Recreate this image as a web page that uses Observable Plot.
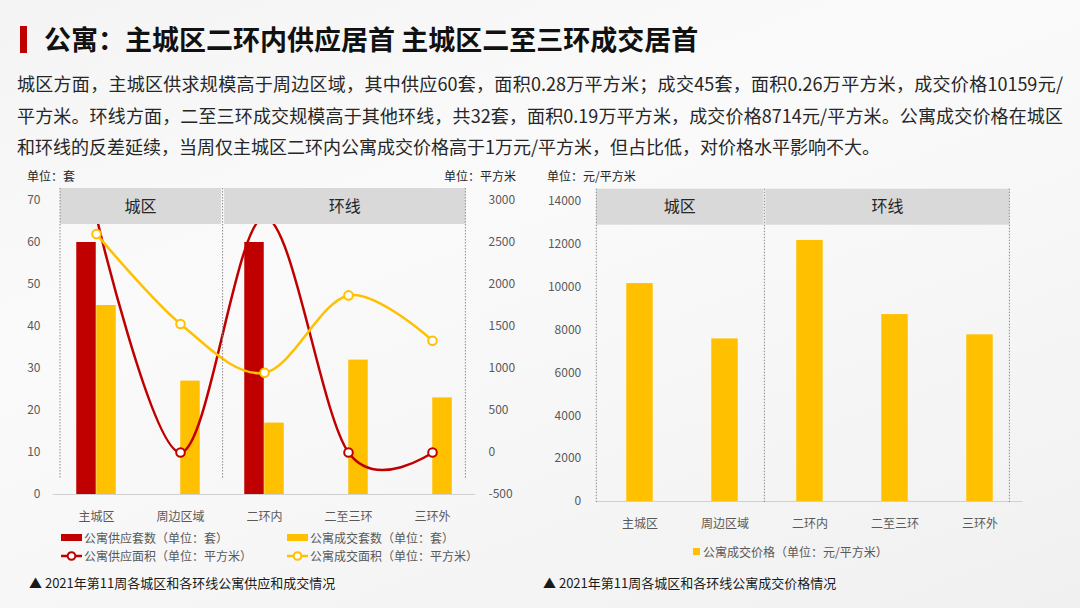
<!DOCTYPE html>
<html>
<head>
<meta charset="utf-8">
<script src="https://cdn.jsdelivr.net/npm/d3@7"></script>
<script src="https://cdn.jsdelivr.net/npm/@observablehq/plot@0.6"></script>
<style>
  html, body { margin: 0; padding: 0; }
  body {
    width: 1080px; height: 608px; overflow: hidden; position: relative;
    font-family: "Noto Sans CJK SC", "Noto Sans", sans-serif;
    background: linear-gradient(160deg, #f4f4f4 0%, #fafafa 35%, #f7f7f7 60%, #f0f0f0 100%);
    color: #262626;
  }
  .abs { position: absolute; white-space: nowrap; }
  #titlebar { left: 20px; top: 26px; width: 7px; height: 27px; background: #C00000; }
  #title { left: 44px; top: 21px; font-size: 27px; line-height: 36px; font-weight: bold; color: #111; }
  #para { left: 17px; top: 68px; width: 1046px; font-size: 18px; line-height: 31.5px; color: #262626; }
  #para div { white-space: nowrap; }
  #para .j { text-align: justify; text-align-last: justify; }
  .unit { font-size: 12px; line-height: 16px; color: #262626; }
  .leg { font-size: 12px; line-height: 16px; color: #595959; }
  .cap { font-size: 13px; line-height: 18px; color: #1a1a1a; }
  .sw { position: absolute; }
  #left, #right { position: absolute; top: 165px; }
  #left { left: 0px; }
  #right { left: 530px; }
</style>
</head>
<body>
<div class="abs" id="titlebar"></div>
<div class="abs" id="title">公寓：主城区二环内供应居首 主城区二至三环成交居首</div>
<div class="abs" id="para">
  <div class="j">城区方面，主城区供求规模高于周边区域，其中供应60套，面积0.28万平方米；成交45套，面积0.26万平方米，成交价格10159元/</div>
  <div class="j">平方米。环线方面，二至三环成交规模高于其他环线，共32套，面积0.19万平方米，成交价格8714元/平方米。公寓成交价格在城区</div>
  <div>和环线的反差延续，当周仅主城区二环内公寓成交价格高于1万元/平方米，但占比低，对价格水平影响不大。</div>
</div>

<div class="abs unit" style="left:27px; top:168px;">单位：套</div>
<div class="abs unit" style="left:444px; top:168px;">单位：平方米</div>
<div class="abs unit" style="left:547px; top:168px;">单位：元/平方米</div>

<div id="left"></div>
<div id="right"></div>

<!-- left legend -->
<div class="sw" style="left:61px; top:534px; width:21px; height:7px; background:#C00000;"></div>
<div class="abs leg" style="left:84px; top:530px;">公寓供应套数（单位：套）</div>
<div class="sw" style="left:287px; top:534px; width:21px; height:7px; background:#FFC000;"></div>
<div class="abs leg" style="left:310px; top:530px;">公寓成交套数（单位：套）</div>
<svg class="sw" style="left:59px; top:549px;" width="26" height="14">
  <line x1="2" y1="7" x2="23" y2="7" stroke="#C00000" stroke-width="2.5"/>
  <circle cx="12.5" cy="7" r="3.8" fill="#fff" stroke="#C00000" stroke-width="2"/>
</svg>
<div class="abs leg" style="left:84px; top:548px;">公寓供应面积（单位：平方米）</div>
<svg class="sw" style="left:285px; top:549px;" width="26" height="14">
  <line x1="2" y1="7" x2="23" y2="7" stroke="#FFC000" stroke-width="2.5"/>
  <circle cx="12.5" cy="7" r="3.8" fill="#fff" stroke="#FFC000" stroke-width="2"/>
</svg>
<div class="abs leg" style="left:310px; top:548px;">公寓成交面积（单位：平方米）</div>
<div class="abs cap" style="left:29px; top:574px;">▲ 2021年第11周各城区和各环线公寓供应和成交情况</div>

<!-- right legend -->
<div class="sw" style="left:693px; top:548px; width:7px; height:7px; background:#FFC000;"></div>
<div class="abs leg" style="left:703px; top:544px;">公寓成交价格（单位：元/平方米）</div>
<div class="abs cap" style="left:543px; top:574px;">▲ 2021年第11周各城区和各环线公寓成交价格情况</div>

<script>
// ---- data ----
const categories = ["主城区", "周边区域", "二环内", "二至三环", "三环外"];
const groupNames = ["城区", "城区", "环线", "环线", "环线"];
const supplySets = [60, 0, 60, 0, 0];          // 公寓供应套数（套）
const dealSets = [45, 27, 17, 32, 23];         // 公寓成交套数（套）
const supplyArea = [2800, 0, 2800, 0, 0];      // 公寓供应面积（平方米）
const dealArea = [2600, 1530, 950, 1870, 1330];// 公寓成交面积（平方米）
const dealPrice = [10159, 7580, 12170, 8714, 7770]; // 公寓成交价格（元/平方米）
const setTicks = [0, 10, 20, 30, 40, 50, 60, 70];
const areaTicks = [-500, 0, 500, 1000, 1500, 2000, 2500, 3000];
const priceTicks = [0, 2000, 4000, 6000, 8000, 10000, 12000, 14000];

// ---- styles ----
const red = "#C00000", yellow = "#FFC000";
const fontFamily = '"Noto Sans CJK SC", "Noto Sans", sans-serif';

const rows = categories.map((c, i) => ({
  cat: c, group: groupNames[i],
  supplySets: supplySets[i], dealSets: dealSets[i],
  supplyArea: supplyArea[i], dealArea: dealArea[i], price: dealPrice[i]
}));

// secondary axis mapping (area -> sets scale)
const setsMin = setTicks[0], setsMax = setTicks[setTicks.length - 1];
const areaMin = areaTicks[0], areaMax = areaTicks[areaTicks.length - 1];
const toSets = v => setsMin + (v - areaMin) / (areaMax - areaMin) * (setsMax - setsMin);
const fromSets = s => areaMin + (s - setsMin) / (setsMax - setsMin) * (areaMax - areaMin);

// header strips + dotted separators drawn from the band scale
function panels({topValue, insetFirst, insetLast, gap, midShift, dashBottom}) {
  return (index, scales) => {
    const x = scales.x, y = scales.y;
    const bw = x.bandwidth ? x.bandwidth() : scales.scales.x.bandwidth;
    const groups = d3.groups(rows, d => d.group);
    const top = y(topValue) - 12, bottom = y(topValue) + 24;
    const g = d3.create("svg:g");
    const lines = [];
    groups.forEach(([name, items], gi) => {
      const first = gi === 0, last = gi === groups.length - 1;
      const x0 = x(items[0].cat), x1 = x(items[items.length - 1].cat) + bw;
      const r0 = first ? x0 + insetFirst : x0 + midShift + gap;
      const r1 = last ? x1 - insetLast : x1 + midShift - gap;
      g.append("rect").attr("x", r0).attr("y", top).attr("width", r1 - r0).attr("height", bottom - top).attr("fill", "#d9d9d9");
      g.append("text").attr("x", (r0 + r1) / 2).attr("y", (top + bottom) / 2)
        .attr("text-anchor", "middle").attr("dy", "0.35em")
        .attr("font-size", 16).attr("fill", "#262626").text(name);
      if (first) lines.push(r0);
      lines.push(last ? r1 : x1 + midShift);
    });
    const yb = y(0) + dashBottom;
    lines.forEach(lx => {
      g.append("line").attr("x1", lx).attr("x2", lx).attr("y1", top).attr("y2", yb)
        .attr("stroke", "#8c8c8c").attr("stroke-width", 1).attr("stroke-dasharray", "1.5,1.5");
    });
    return g.node();
  };
}

const baseStyle = {fontFamily, fontSize: "12px", color: "#595959", background: "transparent", overflow: "visible"};

const L = {width: 540, height: 370, marginLeft: 52.7, marginRight: 64.7, marginTop: 35, marginBottom: 41};
const halfBandL = (L.width - L.marginLeft - L.marginRight) / categories.length / 2;

const left = Plot.plot({
  ...L,
  style: baseStyle,
  x: {type: "band", domain: categories, padding: 0, label: null, axis: null},
  y: {domain: [setsMin, setsMax], label: null, axis: null},
  marks: [
    Plot.ruleY([0], {stroke: "#d0d0d0", strokeWidth: 1}),
    Plot.barY(rows, {x: "cat", y: "supplySets", fill: red, insetLeft: halfBandL - 20, insetRight: halfBandL}),
    Plot.barY(rows, {x: "cat", y: "dealSets", fill: yellow, insetLeft: halfBandL, insetRight: halfBandL - 20}),
    Plot.line(rows, {x: "cat", y: d => toSets(d.supplyArea), stroke: red, strokeWidth: 2.5, curve: "cardinal"}),
    Plot.dot(rows, {x: "cat", y: d => toSets(d.supplyArea), r: 4.3, stroke: red, strokeWidth: 2, fill: "white"}),
    Plot.line(rows, {x: "cat", y: d => toSets(d.dealArea), stroke: yellow, strokeWidth: 2.5, curve: "cardinal"}),
    Plot.dot(rows, {x: "cat", y: d => toSets(d.dealArea), r: 4.3, stroke: yellow, strokeWidth: 2, fill: "white"}),
    panels({topValue: setsMax, insetFirst: 6, insetLast: 8.6, gap: 1.5, midShift: 0.6, dashBottom: -15}),
    Plot.axisY(setTicks, {anchor: "left", tickSize: 0, tickPadding: 12.7, label: null, tickFormat: d => String(d)}),
    Plot.axisY(areaTicks.map(toSets), {anchor: "right", tickSize: 0, tickPadding: 12.7, label: null,
      tickFormat: d => String(Math.round(fromSets(d)))}),
    Plot.axisX({tickSize: 0, tickPadding: 17.7, label: null})
  ]
});
document.getElementById("left").appendChild(left);

const R = {width: 550, height: 370, marginLeft: 66.4, marginRight: 57.4, marginTop: 35.7, marginBottom: 34};
const bandR = (R.width - R.marginLeft - R.marginRight) / categories.length;

const right = Plot.plot({
  ...R,
  style: baseStyle,
  x: {type: "band", domain: categories, padding: 0, label: null, axis: null},
  y: {domain: [priceTicks[0], priceTicks[priceTicks.length - 1]], label: null, axis: null},
  marks: [
    Plot.ruleY([0], {stroke: "#d0d0d0", strokeWidth: 1}),
    Plot.barY(rows, {x: "cat", y: "price", fill: yellow, insetLeft: (bandR - 26.7) / 2, insetRight: (bandR - 26.7) / 2}),
    panels({topValue: priceTicks[priceTicks.length - 1], insetFirst: -0.7, insetLast: 12.6, gap: 1, midShift: -2.6, dashBottom: 2}),
    Plot.axisY(priceTicks, {anchor: "left", tickSize: 0, tickPadding: 15.7, label: null, tickFormat: d => String(d)}),
    Plot.axisX({tickSize: 0, tickPadding: 18, label: null})
  ]
});
document.getElementById("right").appendChild(right);
</script>
</body>
</html>
